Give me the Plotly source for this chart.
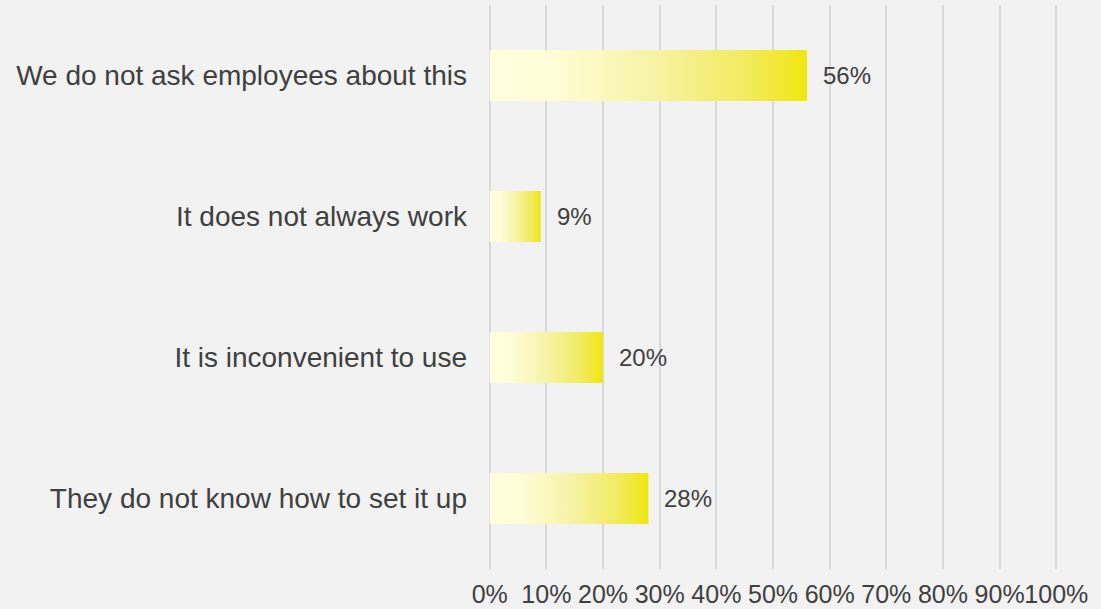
import plotly.graph_objects as go

# Survey responses, listed top to bottom
categories = [
    "We do not ask employees about this",
    "It does not always work",
    "It is inconvenient to use",
    "They do not know how to set it up",
]
values = [56, 9, 20, 28]  # percent

x_ticks = list(range(0, 101, 10))
x_tick_labels = [f"{t}%" for t in x_ticks]

BAR_HALF = 0.181  # half of bar thickness, in category units
TEXT = "#404040"
GRID = "#D9D9D9"
FONT = "Liberation Sans, Arial, sans-serif"

# Pale cream on the left fading into a saturated yellow on the right
bar_gradient = [
    [0.0, "#FFFFE0"],
    [0.2, "#FEFDD6"],
    [0.5, "#F7F3A8"],
    [0.8, "#F2EB62"],
    [1.0, "#F0E70E"],
]

fig = go.Figure()

for i, (cat, v) in enumerate(zip(categories, values)):
    fig.add_trace(go.Scatter(
        x=[0, v, v, 0, 0],
        y=[i - BAR_HALF, i - BAR_HALF, i + BAR_HALF, i + BAR_HALF, i - BAR_HALF],
        mode="lines",
        line=dict(width=0),
        fill="toself",
        fillgradient=dict(type="horizontal", colorscale=bar_gradient),
        name=cat,
        hoverinfo="skip",
        showlegend=False,
    ))
    fig.add_annotation(
        x=v, y=i, text=f"{v}%",
        showarrow=False, xanchor="left", yanchor="middle",
        xshift=14,
        font=dict(family=FONT, size=24, color=TEXT),
    )

fig.update_layout(
    width=1101,
    height=609,
    margin=dict(l=488, r=43, t=5, b=40, autoexpand=False),
    paper_bgcolor="#F2F2F2",
    plot_bgcolor="#F2F2F2",
    showlegend=False,
    font=dict(family=FONT, color=TEXT),
)

# Small padding on both ends so the 0% and 100% gridlines are drawn
fig.update_xaxes(
    range=[-0.3, 100.3],
    tickvals=x_ticks,
    ticktext=x_tick_labels,
    tickangle=0,
    automargin=False,
    tickfont=dict(family=FONT, size=25, color=TEXT),
    showgrid=True,
    gridcolor=GRID,
    gridwidth=1.5,
    zeroline=True,
    zerolinecolor=GRID,
    zerolinewidth=1.5,
    showline=False,
    ticks="",
    ticklabelstandoff=8,
    fixedrange=True,
)

fig.update_yaxes(
    range=[len(categories) - 0.5, -0.5],
    tickvals=list(range(len(categories))),
    ticktext=categories,
    automargin=False,
    tickfont=dict(family=FONT, size=28, color=TEXT),
    showgrid=False,
    zeroline=False,
    showline=False,
    ticks="",
    ticklabelstandoff=20,
    fixedrange=True,
)

fig.write_html("out.html", config={"displayModeBar": False})
